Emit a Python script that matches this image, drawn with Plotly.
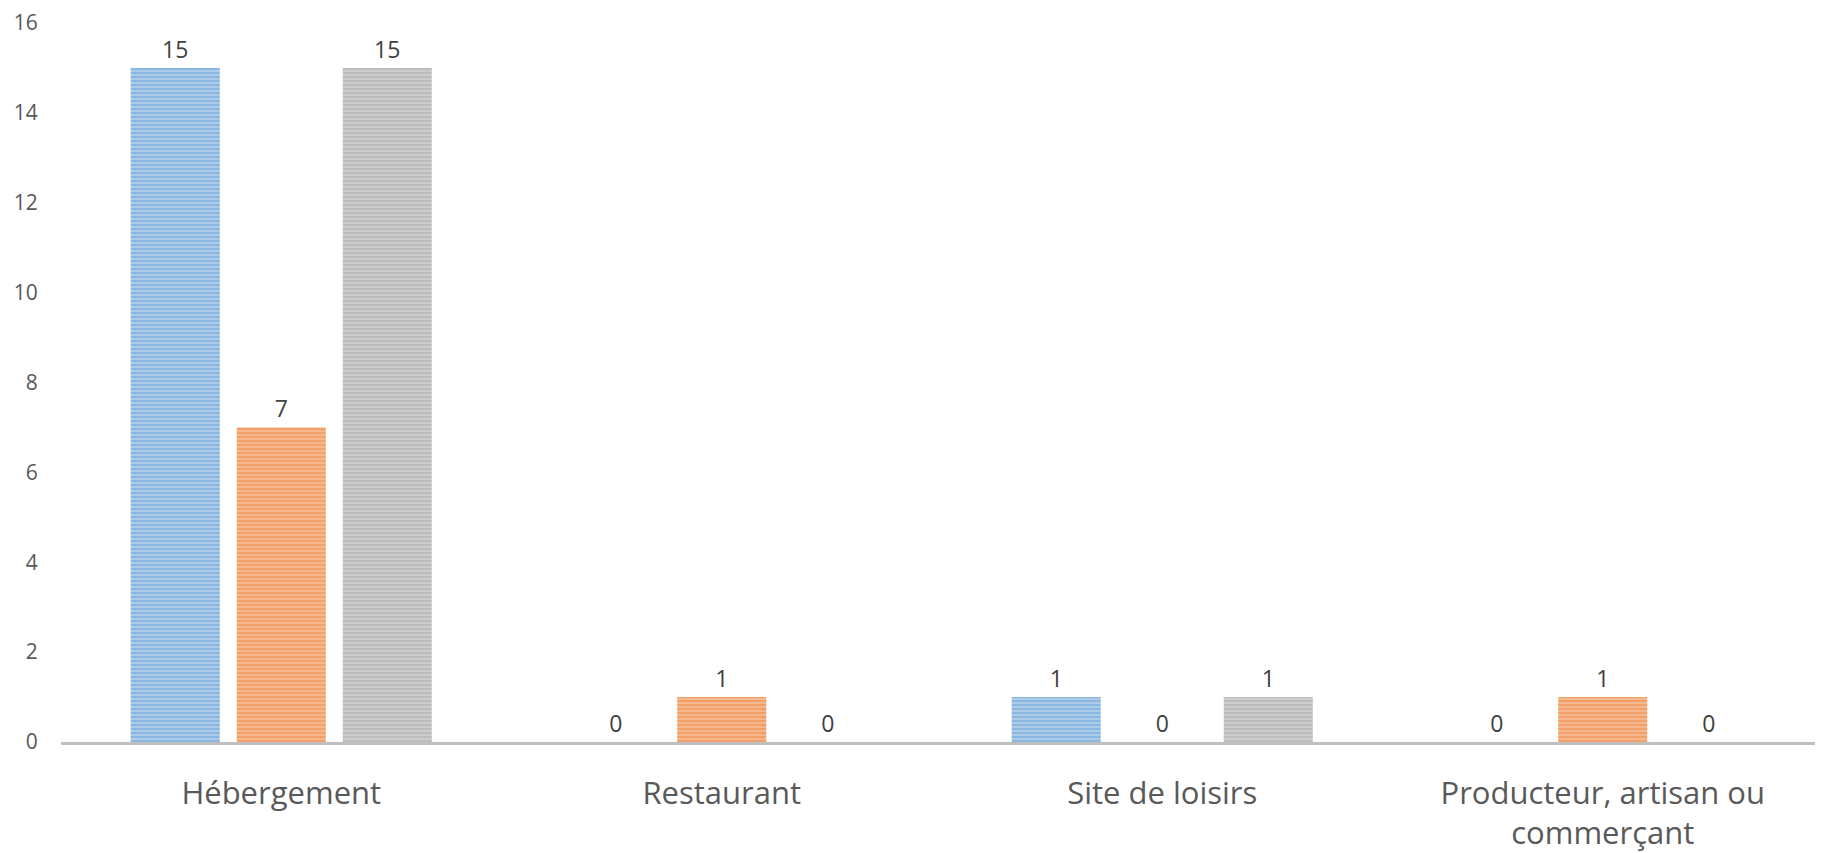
import plotly.graph_objects as go

categories = ["Hébergement", "Restaurant", "Site de loisirs", "Producteur, artisan ou<br>commerçant"]
series_names = ["Série 1", "Série 2", "Série 3"]
series_1 = [15, 0, 1, 0]
series_2 = [7, 1, 0, 1]
series_3 = [15, 0, 1, 0]
y_ticks = [0, 2, 4, 6, 8, 10, 12, 14, 16]

colors = ["#5B9BD5", "#ED7D31", "#A5A5A5"]
bgtints = ["#B8D2EC", "#F6C29E", "#D2D2D2"]

fig = go.Figure()
for name, vals, c, bg in zip(series_names, [series_1, series_2, series_3], colors, bgtints):
    fig.add_trace(go.Bar(
        x=categories, y=vals, name=name,
        marker=dict(color=c, line=dict(width=0),
                    pattern=dict(shape="-", fgcolor=c, bgcolor=bg, size=4, solidity=0.65)),
        text=[str(v) for v in vals], textposition="outside",
        textfont=dict(family="Open Sans", size=23, color="#404040"),
        cliponaxis=False,
    ))

fig.update_layout(
    width=1815, height=845,
    margin=dict(l=53, r=0, t=13, b=111),
    paper_bgcolor="white", plot_bgcolor="white",
    barmode="group", bargap=0.278, bargroupgap=0.16,
    showlegend=False,
    font=dict(family="Open Sans", color="#595959"),
)
fig.update_xaxes(
    showline=True, linecolor="#BFBFBF", linewidth=2.5,
    tickfont=dict(size=31, color="#595959"),
    ticks="outside", tickcolor="white", ticklen=22,
    showgrid=False, zeroline=False,
)
fig.update_yaxes(
    range=[0, 16], tickvals=y_ticks, showgrid=False, zeroline=False,
    showline=False, tickfont=dict(size=21, color="#595959"),
    ticks="outside", tickcolor="white", ticklen=18,
    ticklabeloverflow="allow",
)
fig.write_html("out.html")
